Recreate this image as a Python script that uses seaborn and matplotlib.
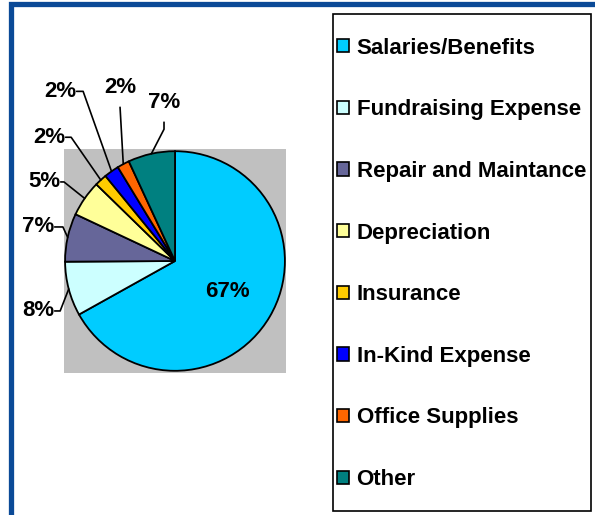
import matplotlib
matplotlib.use("Agg")
import matplotlib.pyplot as plt
from matplotlib.patches import Rectangle
import numpy as np
import seaborn as sns

# Expense breakdown (share of total, %)
categories = [
    "Salaries/Benefits",
    "Fundraising Expense",
    "Repair and Maintance",
    "Depreciation",
    "Insurance",
    "In-Kind Expense",
    "Office Supplies",
    "Other",
]
shares = [66.9, 8.0, 7.1, 5.3, 1.8, 2.2, 1.8, 6.9]
colors = ["#00CCFF", "#CCFFFF", "#666699", "#FFFF99",
          "#FFCC00", "#0000FF", "#FF6600", "#008080"]

# label placement: ("in", r) / ("left", text_right_x, y, elbow_x) / ("top", x, y, start_y, elbow_y)
label_layout = [
    ("in", 0.55),
    ("left", -1.10, -0.455, -1.045),
    ("left", -1.10, 0.31, -1.02),
    ("left", -1.045, 0.72, -1.01),
    ("left", -1.0, 1.127, -0.945),
    ("left", -0.90, 1.545, -0.836),
    ("top", -0.50, 1.58, 1.40, 1.40),
    ("top", -0.10, 1.445, 1.264, 1.20),
]

sns.set_theme(style="white")
plt.rcParams["font.family"] = ["Liberation Sans", "DejaVu Sans"]

W, H = 595, 515
fig = plt.figure(figsize=(W / 100, H / 100), dpi=100)

# blue outer frame (only top and left visible)
fig.patches.append(Rectangle((10.5 / W, -0.1), 1.2, 1.1 - 4.5 / H,
                             transform=fig.transFigure, fill=False,
                             edgecolor="#0B4A97", linewidth=3.8))

ax = fig.add_axes([64 / W, 1 - 373 / H, 222 / W, 224 / H])

wedges, _ = ax.pie(
    shares,
    colors=colors,
    startangle=90,
    counterclock=False,
    radius=1.0,
    frame=True,
    wedgeprops=dict(edgecolor="black", linewidth=1.3),
)
ax.set_facecolor("#C0C0C0")
ax.set_xlim(-1.01, 1.01)
ax.set_ylim(-1.02, 1.02)
ax.set_aspect("auto")
ax.set_xticks([])
ax.set_yticks([])
for s in ax.spines.values():
    s.set_visible(False)

for w, val, lay in zip(wedges, shares, label_layout):
    mid = np.deg2rad((w.theta1 + w.theta2) / 2)
    tx, ty = np.cos(mid), np.sin(mid)
    txt = f"{val:.0f}%"
    kw = dict(fontsize=16, fontweight="bold", color="black", clip_on=False)
    if lay[0] == "in":
        ax.text(lay[1] * tx, lay[1] * ty, txt, ha="center", va="center", **kw)
        continue
    if lay[0] == "left":
        _, xr, y, ex = lay
        ax.text(xr, y, txt, ha="right", va="center", **kw)
        xs = [xr + 0.005, ex, tx]
        ys = [y, y, ty]
    else:
        _, x, y, sy, ey = lay
        ax.text(x, y, txt, ha="center", va="center", **kw)
        xs = [x, x, tx]
        ys = [sy, ey, ty]
    ax.plot(xs, ys, color="black", linewidth=1.2, clip_on=False)

# legend frame and entries
fig.patches.append(Rectangle((332.5 / W, 1 - 510.5 / H), 258.5 / W, 496.5 / H,
                             transform=fig.transFigure, fill=False,
                             edgecolor="black", linewidth=1.2))
leg = fig.legend(
    wedges, categories,
    loc="upper left",
    bbox_to_anchor=(337 / W, 1 - 37.5 / H),
    frameon=False,
    borderpad=0,
    borderaxespad=0,
    handlelength=0.55,
    handleheight=0.55,
    handletextpad=0.33,
    labelspacing=1.83,
    labelcolor="black",
    prop=dict(weight="bold", size=16),
)
for h in leg.legend_handles:
    h.set_edgecolor("black")
    h.set_linewidth(1.2)

fig.savefig("out.png", dpi=100)
